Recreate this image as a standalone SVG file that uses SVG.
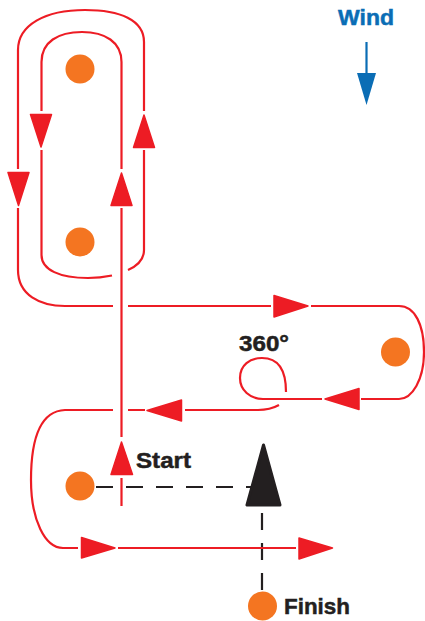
<svg xmlns="http://www.w3.org/2000/svg" width="425" height="621" viewBox="0 0 425 621">
<style>
.r{fill:none;stroke:#ed1c24;stroke-width:2.2}
.h{fill:#ed1c24;stroke:#ed1c24;stroke-width:1.5;stroke-linejoin:round}
.d{fill:none;stroke:#231f20;stroke-width:2.2;stroke-dasharray:17 13}
.m{fill:#f47521}
.t{font-family:"Liberation Sans",Arial,sans-serif;font-weight:700;font-size:22.5px;fill:#231f20;stroke:#231f20;stroke-width:.5}
</style>
<rect width="425" height="621" fill="#fff"/>
<g id="connectors">
<path class="d" d="M96 487H252"/>
<path class="d" d="M262 513V592"/>
<path class="r" d="M121.500 506V478M121.500 437V208M121.500 169V62C121.500 42 105 32 82 32C58 32 41.500 42 41.500 62V111"/>
<path class="r" d="M41.500 150V255C41.500 270 60 278 88 278Q100 278 112 275.500"/>
<path class="r" d="M128 270Q144 263 144 250V150M144 111V42C144 20 120 10 85 10C45 10 18 25 18 50V169"/>
<path class="r" d="M18 208V270C18 295 40 306 65 306H113M128 306H271"/>
<path class="r" d="M311 306H399C415 306 424 325 424 352C424 380 412 399 399 399H361"/>
<path class="r" d="M322 399H263C250 399 240 390 240 378C240 365 250 358 262 358C278 358 286 370 286 392"/>
<path class="r" d="M279 405Q270 410 258 410H185M145 410H128M113 410H65C40 411 31 440 31 480C31 520 45 548 63 548H78"/>
<path class="r" d="M118 548H296"/>
<path id="wind-arrow" fill="none" stroke="#0a6db5" stroke-width="2.200" d="M366.500 42V75"/>
</g>
<g id="arrowheads">
<polygon class="h" points="30.500,114.500 51.500,114.500 41,147"/>
<polygon class="h" points="8,172.500 29,172.500 18.500,205.500"/>
<polygon class="h" points="144,115 133.500,147.500 154.500,147.500"/>
<polygon class="h" points="121.500,173 111,205.500 132,205.500"/>
<polygon class="h" points="274,295.500 274,317 308,306"/>
<polygon class="h" points="325,399 359,388.500 359,409.500"/>
<polygon class="h" points="147,410.500 181.500,400 181.500,421"/>
<polygon class="h" points="121.500,442 111,474.500 132.500,474.500"/>
<polygon class="h" points="81.500,537.500 81.500,558 115,548"/>
<polygon class="h" points="299,538 299,559 332.500,548"/>
<polygon points="357,73 376,73 366.500,105" fill="#0a6db5"/>
</g>
<g id="mark-top"><circle class="m" cx="80" cy="69" r="14.500"/></g>
<g id="mark-bottom"><circle class="m" cx="80" cy="242" r="14.500"/></g>
<g id="mark-right"><circle class="m" cx="395.500" cy="352" r="14.500"/></g>
<g id="start"><circle class="m" cx="80" cy="486" r="14.500"/><text class="t" x="136" y="468" textLength="55" lengthAdjust="spacingAndGlyphs">Start</text></g>
<g id="finish"><circle class="m" cx="262.500" cy="606" r="14.500"/><text class="t" x="284" y="614" textLength="66" lengthAdjust="spacingAndGlyphs">Finish</text></g>
<g id="boat"><polygon points="263.500,445 247,505 280,505" fill="#231f20" stroke="#231f20" stroke-width="3" stroke-linejoin="round"/></g>
<g id="wind"><text class="t" x="338" y="25" textLength="56" lengthAdjust="spacingAndGlyphs" style="fill:#0a6db5;stroke:#0a6db5">Wind</text></g>
<g id="turn"><text class="t" x="239" y="351" textLength="50" lengthAdjust="spacingAndGlyphs">360°</text></g>
</svg>
